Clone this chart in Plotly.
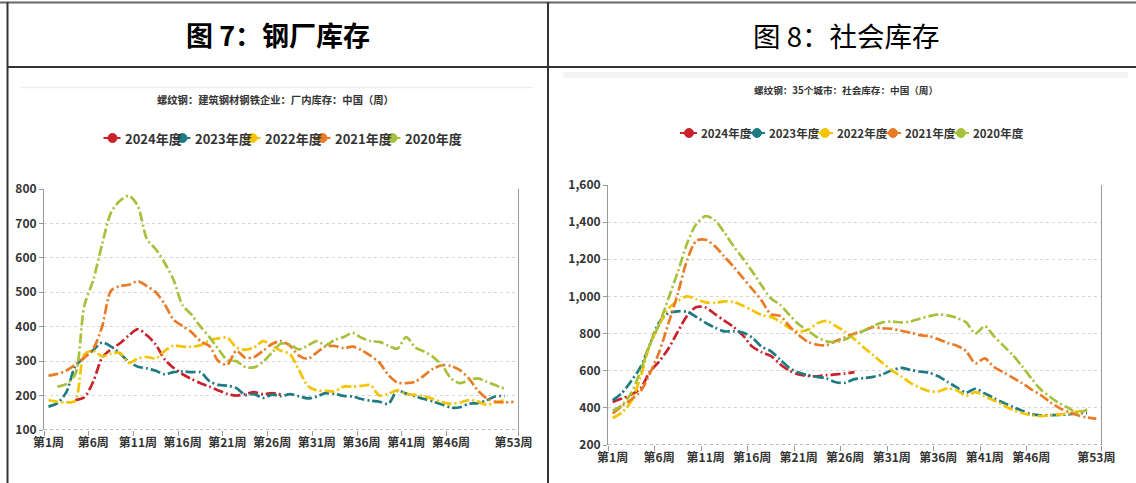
import plotly.graph_objects as go

W, H = 1136, 483

# ---------------- data ----------------
weeks = list(range(1, 54))
label_weeks = [1, 6, 11, 16, 21, 26, 31, 36, 41, 46, 53]
label_text = [f"第{w}周" for w in label_weeks]

series_names = ["2024年度", "2023年度", "2022年度", "2021年度", "2020年度"]
series_colors = ["#c8232c", "#1f7b82", "#f5c400", "#e97a26", "#a6c13c"]

# Figure 7: steel mill inventory (start week, weekly values)
mill_2024_start = 4
mill_2024 = [187, 195, 240, 310, 335, 352, 375, 393, 375, 348, 305, 280, 262, 248,
             236, 226, 215, 205, 200, 204, 210, 204, 207, 203]
mill_2023_start = 1
mill_2023 = [168, 178, 210, 285, 310, 332, 354, 342, 322, 298, 284, 279, 272, 262, 268,
             270, 268, 268, 242, 231, 229, 222, 202, 204, 193, 203, 198, 204, 198, 192,
             197, 207, 205, 199, 197, 190, 185, 182, 176, 214, 206, 198, 190, 183, 174,
             165, 166, 176, 178, 186, 198, 198]
mill_2022_start = 1
mill_2022 = [187, 182, 180, 185, 320, 330, 314, 322, 324, 295, 308, 312, 308, 330, 345,
             342, 342, 346, 360, 366, 368, 340, 333, 340, 358, 345, 330, 320, 275, 228,
             215, 214, 212, 226, 226, 228, 230, 200, 205, 215, 205, 202, 198, 190, 181,
             176, 180, 187, 183, 173, 180, 187]
mill_2021_start = 1
mill_2021 = [258, 263, 273, 290, 310, 336, 400, 505, 518, 522, 532, 518, 500, 465, 420,
             402, 384, 358, 344, 300, 290, 330, 310, 312, 330, 350, 358, 345, 316, 307,
             325, 343, 344, 338, 342, 332, 316, 296, 260, 238, 236, 240, 258, 278, 288,
             286, 274, 250, 215, 192, 182, 180, 182]
mill_2020_start = 2
mill_2020 = [226, 234, 262, 460, 535, 640, 732, 766, 780, 750, 655, 625, 585, 535, 462,
             435, 400, 370, 335, 303, 300, 283, 282, 298, 325, 351, 348, 334, 345, 358,
             346, 362, 370, 382, 368, 358, 356, 345, 336, 370, 340, 328, 312, 288, 250,
             236, 245, 250, 240, 230, 220]

# Figure 8: social inventory, 35 cities
soc_2024_start = 1
soc_2024 = [432, 450, 472, 505, 595, 650, 720, 810, 895, 943, 940, 905, 870, 835, 790,
            730, 700, 680, 635, 600, 580, 572, 570, 576, 580, 585, 592]
soc_2023_start = 1
soc_2023 = [440, 480, 545, 620, 740, 860, 910, 920, 917, 890, 858, 832, 812, 812, 805,
            778, 730, 705, 660, 615, 590, 576, 567, 558, 538, 535, 555, 560, 567, 580,
            603, 615, 605, 596, 589, 570, 540, 510, 482, 503, 478, 452, 428, 406, 385,
            366, 360, 361, 362, 365, 370, 372]
soc_2022_start = 1
soc_2022 = [345, 375, 435, 565, 740, 845, 935, 975, 1000, 985, 968, 966, 973, 970, 950,
            925, 900, 890, 865, 830, 812, 820, 855, 868, 840, 810, 770, 725, 684, 642,
            603, 570, 535, 510, 490, 488, 505, 495, 465, 485, 462, 440, 415, 390, 372,
            360, 356, 360, 365, 370, 380, 385]
soc_2021_start = 1
soc_2021 = [370, 410, 445, 490, 585, 700, 855, 1015, 1195, 1300, 1305, 1270, 1215, 1160,
            1100, 1040, 979, 905, 895, 840, 792, 755, 740, 738, 760, 780, 800, 815, 835,
            828, 826, 815, 805, 792, 786, 770, 750, 735, 705, 640, 666, 620, 592, 563,
            533, 500, 470, 432, 400, 378, 360, 348, 342]
soc_2020_start = 1
soc_2020 = [385, 415, 480, 600, 740, 850, 990, 1130, 1285, 1390, 1432, 1410, 1345, 1270,
            1205, 1135, 1060, 990, 955, 900, 850, 815, 780, 758, 756, 768, 795, 815, 840,
            860, 865, 860, 865, 880, 893, 903, 898, 885, 860, 800, 840, 785, 735, 685,
            625, 560, 500, 460, 425, 400, 372, 392]

mill_series = [(mill_2024_start, mill_2024), (mill_2023_start, mill_2023),
               (mill_2022_start, mill_2022), (mill_2021_start, mill_2021),
               (mill_2020_start, mill_2020)]
soc_series = [(soc_2024_start, soc_2024), (soc_2023_start, soc_2023),
              (soc_2022_start, soc_2022), (soc_2021_start, soc_2021),
              (soc_2020_start, soc_2020)]

header_left = "图 7：钢厂库存"
header_right = "图 8：社会库存"
title_left = "螺纹钢：建筑钢材钢铁企业：厂内库存：中国（周）"
title_right = "螺纹钢：35个城市：社会库存：中国（周）"

# ---------------- helpers ----------------
def fx(p):
    return p / W


def fy(p):
    return 1 - p / H


FONT = "Noto Sans CJK SC"
DASH = "10px,3px,2px,3px"

fig = go.Figure()

for (start, vals), name, color in zip(mill_series, series_names, series_colors):
    fig.add_trace(go.Scatter(
        x=list(range(start, start + len(vals))), y=vals, name=name,
        mode="lines", line=dict(color=color, width=2.7, dash=DASH, shape="spline", smoothing=0.8),
        xaxis="x", yaxis="y", showlegend=False, hoverinfo="x+y+name"))

for (start, vals), name, color in zip(soc_series, series_names, series_colors):
    fig.add_trace(go.Scatter(
        x=list(range(start, start + len(vals))), y=vals, name=name,
        mode="lines", line=dict(color=color, width=2.7, dash=DASH, shape="spline", smoothing=0.8),
        xaxis="x2", yaxis="y2", showlegend=False, hoverinfo="x+y+name"))

boundaries = [w - 0.5 for w in label_weeks[:-1]] + [weeks[-1] + 0.5]

xcommon = dict(
    range=[weeks[0] - 0.5, weeks[-1] + 0.5], tickmode="array", tickvals=label_weeks,
    ticktext=label_text, ticks="", showgrid=False, showline=False, zeroline=False,
    tickfont=dict(family=FONT, size=12, color="#333333", weight=600), automargin=False,
    ticklabelstandoff=4,
    minor=dict(tickmode="array", tickvals=boundaries, ticks="outside", ticklen=5,
               tickcolor="#999999", tickwidth=1, showgrid=False),
    fixedrange=True,
)
ycommon = dict(
    showgrid=True, gridcolor="#d6d6d6", griddash="dot", gridwidth=1,
    showline=True, linecolor="#9a9a9a", linewidth=1, mirror=True,
    ticks="outside", ticklen=4, tickcolor="#9a9a9a", zeroline=False, automargin=False,
    tickfont=dict(family=FONT, size=12, color="#333333", weight=600), fixedrange=True,
)

fig.update_layout(
    width=W, height=H, margin=dict(l=0, r=0, t=0, b=0, pad=0, autoexpand=False),
    paper_bgcolor="white", plot_bgcolor="white", showlegend=False,
    xaxis=dict(domain=[fx(44), fx(518)], anchor="y", **xcommon),
    yaxis=dict(domain=[fy(430), fy(189)], anchor="x", range=[100, 800], tick0=100, dtick=100, **ycommon),
    xaxis2=dict(domain=[fx(608), fx(1101)], anchor="y2", **xcommon),
    yaxis2=dict(domain=[fy(445), fy(185)], anchor="x2", range=[200, 1600], tick0=200, dtick=200,
                tickformat=",d", **ycommon),
)

shapes = []
ann = []

# table frame
frame = "#333333"
shapes.append(dict(type="line", xref="paper", yref="paper", x0=0, x1=1, y0=fy(2.5), y1=fy(2.5),
                   line=dict(color="#666666", width=2)))
shapes.append(dict(type="line", xref="paper", yref="paper", x0=fx(7.5), x1=fx(7.5), y0=fy(2), y1=0,
                   line=dict(color=frame, width=2)))
shapes.append(dict(type="line", xref="paper", yref="paper", x0=fx(548), x1=fx(548), y0=fy(2), y1=0,
                   line=dict(color=frame, width=2)))
shapes.append(dict(type="line", xref="paper", yref="paper", x0=fx(7), x1=1, y0=fy(67), y1=fy(67),
                   line=dict(color=frame, width=2)))

# faint toolbar remnants
shapes.append(dict(type="line", xref="paper", yref="paper", x0=fx(20), x1=fx(533), y0=fy(87.5), y1=fy(87.5),
                   line=dict(color="#eeeeee", width=1.5)))
shapes.append(dict(type="rect", xref="paper", yref="paper", x0=fx(563), x1=fx(1128), y0=fy(78), y1=fy(72),
                   line=dict(width=0), fillcolor="#f4f4f4"))

# dotted x axis lines
for xr, yr, y0 in (("x domain", "y", 100), ("x2 domain", "y2", 200)):
    shapes.append(dict(type="line", xref=xr, yref=yr, x0=0, x1=1, y0=y0, y1=y0,
                       line=dict(color="#777777", width=1, dash="dot")))


def text(t, x, y, size, color, weight="normal", xanchor="center", family=FONT):
    ann.append(dict(text=t, x=fx(x), y=fy(y), xref="paper", yref="paper", showarrow=False,
                    xanchor=xanchor, yanchor="middle",
                    font=dict(family=family, size=size, color=color, weight=weight)))


# headers
text(header_left, 278, 35, 27, "#000000", "bold")
text(header_right, 846, 35, 27.5, "#000000")

# chart titles
text(title_left, 275, 100, 10.3, "#333333", 600)
text(title_right, 846, 90, 9.6, "#333333", 600)


# legends (drawn)
def legend(x0, step, ly, size):
    for i, (name, color) in enumerate(zip(series_names, series_colors)):
        mx = x0 + i * step
        shapes.append(dict(type="line", xref="paper", yref="paper", x0=fx(mx - 9), x1=fx(mx + 8),
                           y0=fy(ly), y1=fy(ly), line=dict(color=color, width=2)))
        shapes.append(dict(type="circle", xref="paper", yref="paper", x0=fx(mx - 4.5), x1=fx(mx + 4.5),
                           y0=fy(ly + 4.5), y1=fy(ly - 4.5), line=dict(color=color, width=1),
                           fillcolor=color))
        text(name, mx + 10, ly, size, "#333333", 600, xanchor="left")


legend(112.5, 70, 138, 13)
legend(689, 68, 133, 11.5)

fig.update_layout(shapes=shapes, annotations=ann)
fig.write_html("out.html", config={"displayModeBar": False},
               post_script="document.body.style.margin='0px';")
